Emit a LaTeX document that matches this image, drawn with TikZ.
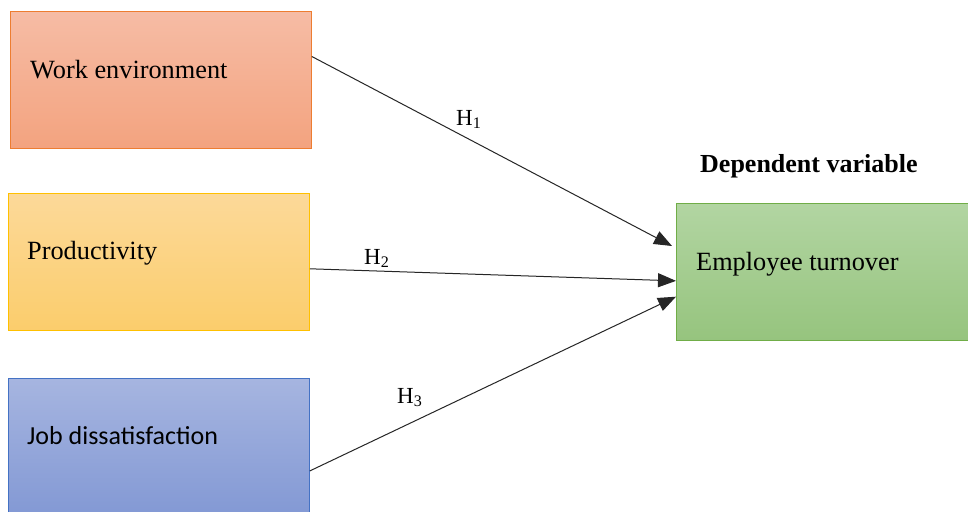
\documentclass[tikz,border=0pt]{standalone}
\usepackage{fontspec}
\setmainfont{Liberation Serif}
\newfontfamily\calfont{Carlito}
\usetikzlibrary{arrows.meta,calc}
\definecolor{weTop}{HTML}{F6BCA5}
\definecolor{weBot}{HTML}{F3A37F}
\definecolor{weLine}{HTML}{ED7D31}
\definecolor{prTop}{HTML}{FCD999}
\definecolor{prBot}{HTML}{FBCD6C}
\definecolor{prLine}{HTML}{FFC000}
\definecolor{jdTop}{HTML}{A6B5E0}
\definecolor{jdBot}{HTML}{8298D4}
\definecolor{jdLine}{HTML}{4472C4}
\definecolor{etTop}{HTML}{B2D5A2}
\definecolor{etBot}{HTML}{96C47E}
\definecolor{etLine}{HTML}{70AD47}
\definecolor{arr}{HTML}{262626}
\tikzset{
  varbox/.style={rectangle, draw, line width=0.8pt, minimum width=301pt, minimum height=137pt, anchor=north west, inner sep=0pt},
  boxtext/.style={anchor=base west, inner sep=0pt, font=\fontsize{26.3}{30}\selectfont},
  hlabel/.style={anchor=base west, inner sep=0pt, font=\fontsize{23}{27}\selectfont},
  link/.style={draw=arr, line width=1pt, -{Triangle[length=18pt,width=14pt]}}
}
\begin{document}
\begin{tikzpicture}[x=1pt,y=-1pt]
\useasboundingbox[fill=white] (0,0) rectangle (968,511);
% boxes
\node[varbox, draw=weLine, top color=weTop, bottom color=weBot] (we) at (10,11) {};
\node[varbox, draw=prLine, top color=prTop, bottom color=prBot] (pr) at (8,193) {};
\node[varbox, draw=jdLine, top color=jdTop, bottom color=jdBot, minimum height=140pt] (jd) at (8,378) {};
\node[varbox, draw=etLine, top color=etTop, bottom color=etBot, minimum width=294pt, minimum height=137pt] (et) at (676,203) {};
% texts
\node[boxtext] (weT) at (30,78) {Work environment};
\node[boxtext] (prT) at (27,259) {Productivity};
\node[boxtext, font=\calfont\fontsize{26}{30}\selectfont] (jdT) at (27,444) {Job dissatisfaction};
\node[boxtext] (etT) at (696,270) {Employee turnover};
\node[boxtext, font=\bfseries\fontsize{26}{30}\selectfont] (dv) at (700,172) {Dependent variable};
% connector ends
\coordinate (s1) at ($(we.north east)!0.33!(we.south east)$);
\coordinate (s2) at ($(pr.north east)!0.55!(pr.south east)$);
\coordinate (s3) at ($(jd.north east)!0.66!(jd.south east)$);
\coordinate (e1) at ($(et.north west)+(-4,43)$);
\coordinate (e2) at ($(et.north west)!0.565!(et.south west)$);
\coordinate (e3) at ($(et.north west)!0.68!(et.south west)$);
\draw[link] (s1) -- (e1);
\draw[link] (s2) -- (e2);
\draw[link] (s3) -- (e3);
% labels
\node[hlabel] (h1) at (456,125) {H\textsubscript{1}};
\node[hlabel] (h2) at (364,264) {H\textsubscript{2}};
\node[hlabel] (h3) at (397,403) {H\textsubscript{3}};
\end{tikzpicture}
\end{document}
